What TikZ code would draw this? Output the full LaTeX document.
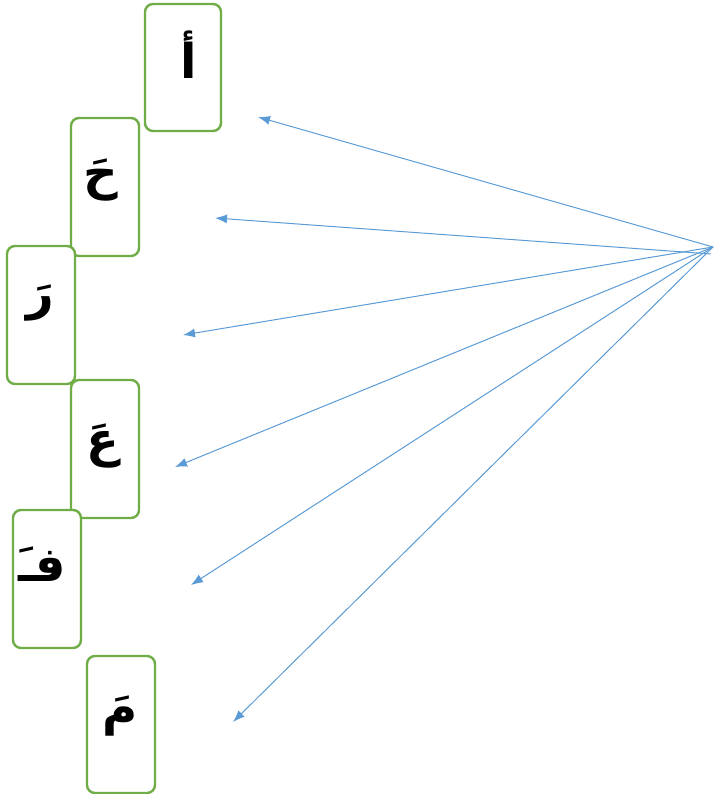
\documentclass[tikz,border=0pt]{standalone}
\usepackage{fontspec}
\newfontfamily\arabicfont[Script=Arabic]{DejaVu Sans}
\TeXXeTstate=1
\usetikzlibrary{arrows.meta}
\definecolor{boxgreen}{RGB}{112,173,71}
\definecolor{arrowblue}{RGB}{91,155,213}
\begin{document}
\begin{tikzpicture}[x=1pt,y=-1pt,
  letterbox/.style={draw=boxgreen,line width=2.4pt,rounded corners=8pt,fill=white},
  letter/.style={font=\arabicfont\bfseries\fontsize{48}{56}\selectfont,inner sep=0pt},
  pointer/.style={draw=arrowblue,line width=1pt,-{Latex[length=12pt,width=9pt]}}]
\useasboundingbox (0,0) rectangle (721,794);
% boxes
\draw[letterbox] (145,4) rectangle (221,131);
\draw[letterbox] (71,118) rectangle (139,256);
\draw[letterbox] (7,246) rectangle (75,384);
\draw[letterbox] (71,380) rectangle (139,518);
\draw[letterbox] (13,510) rectangle (81,648);
\draw[letterbox] (87,656) rectangle (155,793);
% letters
\node[letter] (l1) at (189,55) {\beginR أ\endR};
\node[letter] (l2) at (101,180) {\beginR حَ\endR};
\node[letter] (l3) at (40,303) {\beginR رَ\endR};
\node[letter] (l4) at (103,446) {\beginR عَ\endR};
\node[letter] (l5) at (42,564) {\beginR فـَ\endR};
\node[letter] (l6) at (120,716) {\beginR مَ\endR};
% arrows
\coordinate (src) at (713,247);
\coordinate (src2) at (711,254);
\coordinate (t1) at (258,117);
\coordinate (t2) at (215,218);
\coordinate (t3) at (183,335);
\coordinate (t4) at (175,467);
\coordinate (t5) at (191,585);
\coordinate (t6) at (233,722);
\draw[pointer] (src) -- (t1);
\draw[pointer] (src2) -- (t2);
\draw[pointer] (src) -- (t3);
\draw[pointer] (src) -- (t4);
\draw[pointer] (src) -- (t5);
\draw[pointer] (src) -- (t6);
\end{tikzpicture}
\end{document}
